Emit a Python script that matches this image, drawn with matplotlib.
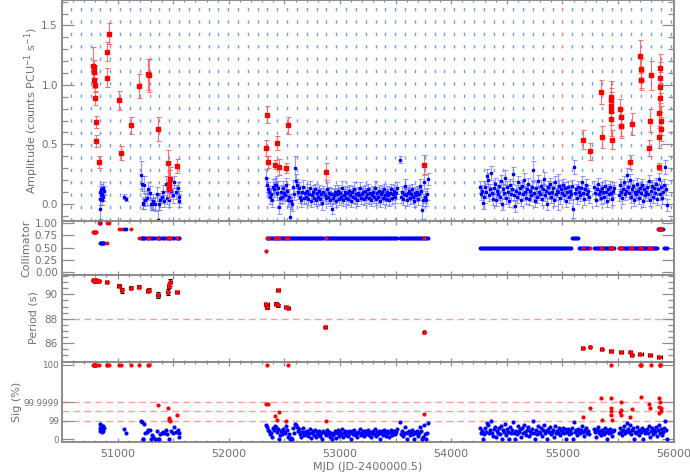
import matplotlib
matplotlib.use('Agg')
import matplotlib.pyplot as plt
import numpy as np
from matplotlib.ticker import MultipleLocator, FixedLocator, FuncFormatter

plt.rcParams['lines.scale_dashes'] = False
plt.rcParams['font.family'] = ['DejaVu Sans']
plt.rcParams['font.size'] = 8

# ---------------- data ----------------
# Blue (non-significant) observations: MJD, amplitude, error, significance (display units)
blue_mjd = [
    50838, 50842, 50845, 50849, 50853, 50857, 50862, 50867, 50872, 50879,
    51060, 51072, 51208, 51216, 51224, 51231, 51237, 51249, 51262, 51275,
    51288, 51298, 51309, 51321, 51336, 51352, 51364, 51375, 51383, 51396,
    51411, 51420, 51435, 51447, 51465, 51480, 51495, 51507, 51522, 51540,
    51549, 51556,
    # middle
    52336, 52344, 52353, 52361, 52370, 52378, 52388, 52396, 52405, 52413,
    52423, 52431, 52441, 52450, 52458, 52468, 52477, 52486, 52494, 52504,
    52512, 52522, 52531, 52540, 52548, 52558, 52567, 52575, 52585, 52594,
    52602, 52612, 52621, 52629, 52639, 52648, 52656, 52666, 52675, 52683,
    52693, 52702, 52710, 52720, 52729, 52737, 52747, 52756, 52764, 52774,
    52783, 52791, 52801, 52810, 52818, 52828, 52837, 52845, 52861, 52871,
    52880, 52888, 52898, 52907, 52915, 52925, 52934, 52942, 52952, 52961,
    52969, 52979, 52988, 52996, 53006, 53015, 53023, 53033, 53042, 53050,
    53060, 53069, 53077, 53087, 53096, 53104, 53114, 53123, 53131, 53141,
    53150, 53158, 53168, 53177, 53185, 53195, 53204, 53212, 53222, 53231,
    53239, 53249, 53258, 53266, 53276, 53285, 53293, 53303, 53312, 53320,
    53330, 53339, 53347, 53357, 53366, 53374, 53384, 53393, 53401, 53411,
    53420, 53428, 53438, 53447, 53455, 53465, 53474, 53482, 53492, 53501,
    53509, 53540, 53552, 53561, 53569, 53579, 53588, 53596, 53606, 53615,
    53623, 53633, 53642, 53650, 53660, 53669, 53677, 53687, 53696, 53704,
    53714, 53723, 53731, 53741, 53748, 53757, 53766, 53775, 53785, 53794,
    # right
    54259, 54268, 54276, 54286, 54295, 54303, 54313, 54322, 54330, 54340,
    54349, 54357, 54367, 54376, 54384, 54394, 54403, 54411, 54421, 54430,
    54438, 54448, 54457, 54465, 54475, 54484, 54492, 54502, 54511, 54519,
    54529, 54538, 54546, 54556, 54565, 54573, 54583, 54592, 54600, 54610,
    54619, 54627, 54637, 54646, 54654, 54664, 54673, 54681, 54691, 54700,
    54708, 54718, 54727, 54735, 54745, 54754, 54762, 54772, 54781, 54789,
    54799, 54808, 54816, 54826, 54835, 54843, 54853, 54862, 54870, 54880,
    54889, 54897, 54907, 54916, 54924, 54934, 54943, 54951, 54961, 54970,
    54978, 54988, 54997, 55005, 55015, 55024, 55032, 55042, 55051, 55059,
    55069, 55078, 55086, 55096, 55105, 55113, 55123, 55132, 55140, 55150,
    55159, 55167, 55177, 55186, 55194, 55204, 55213, 55221, 55231, 55240,
    55286, 55294, 55304, 55313, 55321, 55331, 55340, 55348, 55358, 55367,
    55375, 55385, 55394, 55402, 55412, 55421, 55429, 55439, 55448, 55456,
    55466, 55505, 55514, 55524, 55533, 55541, 55551, 55560, 55568, 55578,
    55587, 55595, 55605, 55614, 55622, 55632, 55641, 55649, 55659, 55668,
    55676, 55686, 55695, 55703, 55713, 55722, 55730, 55740, 55749, 55757,
    55767, 55776, 55784, 55794, 55803, 55811, 55821, 55830, 55838, 55848,
    55857, 55865, 55875, 55884, 55892, 55902, 55911, 55919, 55929, 55938,
]
blue_amp = [
    0.04, -0.04, 0.10, 0.07, 0.12, 0.03, 0.08, 0.13, 0.06, 0.11,
    0.06, 0.04, 0.24, 0.17, 0.00, 0.01, 0.16, 0.03, 0.05, 0.12,
    0.09, 0.00, 0.00, 0.02, 0.00, 0.08, -0.14, 0.00, 0.03, 0.06,
    0.10, 0.02, 0.17, 0.05, 0.03, 0.11, 0.07, 0.18, 0.10, 0.13,
    0.06, 0.02,
    # middle
    0.22, 0.16, 0.12, 0.10, 0.06, 0.08, 0.03, 0.14, 0.12, 0.16,
    0.16, 0.09, 0.13, -0.03, 0.05, 0.10, 0.06, 0.13, 0.09, 0.07,
    0.16, 0.11, 0.03, 0.06, -0.11, 0.02, 0.00, 0.14, 0.08, 0.30,
    0.19, 0.16, 0.10, 0.13, 0.06, 0.03, 0.10, 0.14, 0.05, 0.09,
    0.06, 0.11, 0.04, 0.08, 0.13, 0.02, 0.07, 0.10, 0.05, 0.12,
    0.03, 0.09, 0.06, 0.11, 0.04, 0.08, 0.01, 0.10, 0.07, 0.05,
    0.12, 0.06, 0.09, 0.03, 0.08, -0.04, 0.05, 0.07, 0.10, 0.02,
    0.08, 0.11, 0.04, 0.09, 0.06, 0.13, 0.03, 0.07, 0.10, 0.05,
    0.09, 0.04, 0.11, 0.07, 0.02, 0.10, 0.06, 0.12, 0.05, 0.08,
    0.03, 0.09, 0.07, 0.13, 0.05, 0.08, 0.10, 0.04, 0.11, 0.06,
    0.08, 0.12, 0.05, 0.09, 0.03, 0.07, 0.10, 0.06, 0.13, 0.04,
    0.09, 0.06, 0.11, 0.02, 0.08, 0.10, 0.05, 0.12, 0.07, 0.04,
    0.10, 0.07, 0.03, 0.09, 0.12, 0.05, 0.08, 0.11, 0.06, 0.09,
    0.13, 0.37, 0.06, 0.10, 0.04, 0.08, 0.15, 0.07, 0.03, 0.09,
    0.11, 0.05, 0.08, 0.12, 0.06, 0.02, 0.09, 0.07, 0.10, 0.04,
    0.08, 0.15, 0.11, -0.05, 0.03, 0.18, 0.06, 0.03, 0.08, 0.21,
    # right
    0.14, 0.08, 0.11, 0.01, 0.06, 0.14, 0.10, 0.23, 0.20, 0.07,
    0.12, 0.26, 0.09, 0.04, 0.13, 0.17, 0.03, 0.11, 0.08, 0.15,
    0.06, 0.19, 0.00, 0.12, 0.09, 0.22, 0.05, 0.14, 0.10, 0.02,
    0.16, 0.08, 0.12, 0.25, 0.07, -0.02, 0.11, 0.06, 0.18, 0.09,
    0.13, 0.03, 0.15, 0.08, 0.20, 0.10, 0.05, 0.12, 0.17, 0.04,
    0.11, 0.07, 0.14, 0.28, 0.09, 0.02, 0.13, 0.06, 0.19, 0.10,
    0.08, 0.15, 0.04, 0.12, 0.21, 0.07, 0.11, 0.00, 0.14, 0.09,
    0.17, 0.06, 0.10, 0.13, 0.03, 0.18, 0.08, 0.11, 0.10, 0.15,
    0.05, 0.12, 0.09, 0.16, 0.07, 0.13, 0.02, 0.10, 0.14, 0.06,
    0.11, 0.08, 0.15, -0.04, 0.31, 0.09, 0.12, 0.05, 0.14, 0.10,
    0.07, 0.13, 0.18, 0.09, 0.04, 0.12, 0.16, 0.08, 0.11, 0.06,
    0.14, 0.09, 0.03, 0.12, 0.17, 0.08, 0.11, 0.05, 0.13, 0.10,
    0.06, 0.15, 0.10, 0.02, 0.12, 0.08, 0.14, 0.09, 0.04, 0.11,
    0.13, 0.07, 0.16, 0.10, 0.05, 0.12, 0.18, 0.08, 0.11, 0.24,
    0.14, 0.09, 0.20, 0.06, 0.12, 0.15, 0.03, 0.10, 0.08, 0.17,
    0.11, 0.05, 0.13, 0.09, 0.16, 0.02, 0.12, 0.07, 0.10, 0.14,
    0.08, 0.19, 0.03, 0.11, 0.15, 0.06, 0.13, 0.09, 0.17, 0.04,
    0.12, 0.21, 0.08, 0.14, 0.05, 0.10, 0.16, 0.31, 0.12, -0.01,
]
blue_err = [
    0.05, 0.09, 0.05, 0.04, 0.05, 0.04, 0.05, 0.05, 0.04, 0.04,
    0.02, 0.02, 0.12, 0.06, 0.04, 0.05, 0.07, 0.05, 0.06, 0.06,
    0.06, 0.05, 0.05, 0.06, 0.06, 0.06, 0.09, 0.05, 0.06, 0.05,
    0.06, 0.05, 0.06, 0.05, 0.06, 0.05, 0.06, 0.05, 0.06, 0.05,
    0.05, 0.05,
    # middle
    0.07, 0.06, 0.06, 0.05, 0.06, 0.05, 0.06, 0.07, 0.06, 0.06,
    0.07, 0.06, 0.06, 0.06, 0.05, 0.06, 0.05, 0.06, 0.06, 0.05,
    0.06, 0.06, 0.05, 0.06, 0.08, 0.06, 0.06, 0.06, 0.05, 0.10,
    0.06, 0.05, 0.06, 0.05, 0.05, 0.06, 0.05, 0.06, 0.05, 0.05,
    0.05, 0.06, 0.05, 0.05, 0.06, 0.05, 0.05, 0.06, 0.05, 0.05,
    0.05, 0.05, 0.06, 0.05, 0.05, 0.05, 0.06, 0.05, 0.05, 0.05,
    0.06, 0.05, 0.05, 0.05, 0.05, 0.05, 0.05, 0.05, 0.06, 0.05,
    0.05, 0.05, 0.05, 0.05, 0.05, 0.06, 0.05, 0.05, 0.05, 0.05,
    0.05, 0.05, 0.05, 0.05, 0.05, 0.05, 0.05, 0.06, 0.05, 0.05,
    0.05, 0.05, 0.05, 0.05, 0.05, 0.05, 0.05, 0.05, 0.05, 0.05,
    0.05, 0.05, 0.05, 0.05, 0.05, 0.05, 0.05, 0.05, 0.06, 0.05,
    0.05, 0.05, 0.05, 0.05, 0.05, 0.05, 0.05, 0.05, 0.05, 0.05,
    0.05, 0.05, 0.05, 0.05, 0.05, 0.05, 0.05, 0.05, 0.05, 0.05,
    0.05, 0.03, 0.05, 0.05, 0.05, 0.05, 0.06, 0.05, 0.05, 0.05,
    0.05, 0.05, 0.05, 0.05, 0.05, 0.05, 0.05, 0.05, 0.05, 0.05,
    0.05, 0.06, 0.05, 0.08, 0.05, 0.06, 0.05, 0.05, 0.05, 0.05,
    # right
    0.05, 0.05, 0.05, 0.05, 0.05, 0.05, 0.05, 0.06, 0.06, 0.05,
    0.05, 0.06, 0.05, 0.05, 0.05, 0.05, 0.05, 0.05, 0.05, 0.05,
    0.05, 0.05, 0.05, 0.05, 0.05, 0.06, 0.05, 0.05, 0.05, 0.05,
    0.05, 0.05, 0.05, 0.06, 0.05, 0.05, 0.05, 0.05, 0.05, 0.05,
    0.05, 0.05, 0.05, 0.05, 0.06, 0.05, 0.05, 0.05, 0.05, 0.05,
    0.05, 0.05, 0.05, 0.08, 0.05, 0.05, 0.05, 0.05, 0.05, 0.05,
    0.05, 0.05, 0.05, 0.05, 0.06, 0.05, 0.05, 0.05, 0.05, 0.05,
    0.05, 0.05, 0.05, 0.05, 0.05, 0.05, 0.05, 0.05, 0.15, 0.05,
    0.05, 0.05, 0.05, 0.05, 0.05, 0.05, 0.05, 0.05, 0.05, 0.05,
    0.05, 0.05, 0.05, 0.08, 0.06, 0.05, 0.05, 0.05, 0.05, 0.05,
    0.05, 0.05, 0.05, 0.05, 0.05, 0.05, 0.05, 0.05, 0.05, 0.05,
    0.05, 0.05, 0.05, 0.05, 0.05, 0.05, 0.05, 0.05, 0.05, 0.05,
    0.05, 0.05, 0.05, 0.05, 0.05, 0.05, 0.05, 0.05, 0.05, 0.05,
    0.05, 0.05, 0.05, 0.05, 0.05, 0.05, 0.05, 0.05, 0.05, 0.06,
    0.05, 0.05, 0.05, 0.05, 0.05, 0.05, 0.05, 0.05, 0.05, 0.05,
    0.05, 0.05, 0.05, 0.05, 0.05, 0.05, 0.05, 0.05, 0.05, 0.05,
    0.05, 0.05, 0.05, 0.05, 0.05, 0.05, 0.05, 0.05, 0.05, 0.05,
    0.05, 0.05, 0.05, 0.05, 0.05, 0.05, 0.05, 0.06, 0.05, 0.05,
]
blue_sig = [
    1.6, 0.9, 1.2, 1.0, 1.5, 0.8, 1.1, 1.4, 0.9, 1.2,
    1.1, 0.7, 1.9, 1.8, 0.0, 0.0, 1.6, 0.7, 0.8, 1.0,
    0.95, 0.0, 0.4, 0.2, 0.0, 0.9, 0.0, 0.0, 0.5, 0.7,
    0.8, 0.6, 1.0, 0.5, 0.0, 0.9, 0.7, 1.3, 0.8, 1.0,
    0.6, 0.2,
    # middle
    1.5, 1.3, 1.0, 0.9, 0.5, 0.7, 0.2, 1.2, 1.0, 1.4,
    1.3, 0.8, 1.1, 0.0, 0.4, 0.9, 0.5, 1.1, 0.8, 0.6,
    1.4, 1.0, 0.2, 0.5, 0.0, 0.1, 0.0, 1.2, 0.7, 1.6,
    1.5, 1.3, 0.9, 1.1, 0.5, 0.2, 0.8, 1.2, 0.4, 0.8,
    0.5, 0.9, 0.3, 0.7, 1.1, 0.1, 0.6, 0.9, 0.4, 1.0,
    0.2, 0.8, 0.5, 0.9, 0.3, 0.7, 0.0, 0.9, 0.6, 0.4,
    1.0, 0.5, 0.8, 0.2, 0.7, 0.0, 0.4, 0.6, 0.9, 0.1,
    0.7, 1.0, 0.3, 0.8, 0.5, 1.1, 0.2, 0.6, 0.9, 0.4,
    0.8, 0.3, 0.9, 0.6, 0.0, 0.9, 0.5, 1.0, 0.4, 0.7,
    0.2, 0.8, 0.6, 1.1, 0.4, 0.7, 0.9, 0.3, 0.9, 0.5,
    0.7, 1.0, 0.4, 0.8, 0.2, 0.6, 0.9, 0.5, 1.1, 0.3,
    0.8, 0.5, 0.9, 0.0, 0.7, 0.9, 0.4, 1.0, 0.6, 0.3,
    0.9, 0.6, 0.2, 0.8, 1.0, 0.4, 0.7, 0.9, 0.5, 0.8,
    1.1, 1.8, 0.5, 0.9, 0.3, 0.7, 1.3, 0.6, 0.0, 0.8,
    0.9, 0.4, 0.7, 1.0, 0.5, 0.0, 0.8, 0.6, 0.9, 0.3,
    0.7, 1.3, 0.9, 0.0, 0.2, 1.5, 0.5, 0.0, 0.7, 1.7,
    # right
    1.2, 0.7, 0.9, 0.0, 0.5, 1.2, 0.8, 1.7, 1.5, 0.6,
    1.0, 1.9, 0.7, 0.3, 1.1, 1.3, 0.2, 0.9, 0.7, 1.2,
    0.5, 1.4, 0.0, 1.0, 0.8, 1.6, 0.4, 1.1, 0.8, 0.0,
    1.3, 0.7, 1.0, 1.8, 0.6, 0.0, 0.9, 0.5, 1.4, 0.8,
    1.1, 0.2, 1.2, 0.7, 1.5, 0.8, 0.4, 1.0, 1.3, 0.3,
    0.9, 0.6, 1.1, 1.9, 0.7, 0.0, 1.0, 0.5, 1.4, 0.8,
    0.7, 1.2, 0.3, 1.0, 1.5, 0.6, 0.9, 0.0, 1.1, 0.8,
    1.3, 0.5, 0.8, 1.0, 0.2, 1.4, 0.7, 0.9, 0.6, 1.2,
    0.4, 1.0, 0.8, 1.2, 0.6, 1.1, 0.0, 0.8, 1.1, 0.5,
    0.9, 0.7, 1.2, 0.0, 1.8, 0.8, 1.0, 0.4, 1.1, 0.8,
    0.6, 1.0, 1.4, 0.8, 0.3, 1.0, 1.2, 0.7, 0.9, 0.5,
    1.1, 0.8, 0.2, 1.0, 1.3, 0.7, 0.9, 0.4, 1.0, 0.8,
    0.5, 1.2, 0.8, 0.0, 1.0, 0.7, 1.1, 0.8, 0.3, 0.9,
    1.0, 0.6, 1.2, 0.8, 0.4, 1.0, 1.4, 0.7, 0.9, 1.7,
    1.1, 0.8, 1.5, 0.5, 1.0, 1.2, 0.0, 0.8, 0.7, 1.3,
    0.9, 0.4, 1.0, 0.8, 1.2, 0.0, 1.0, 0.6, 0.8, 1.1,
    0.7, 1.4, 0.2, 0.9, 1.2, 0.5, 1.0, 0.8, 1.3, 0.3,
    1.0, 1.5, 0.7, 1.1, 0.4, 0.8, 1.2, 1.9, 1.0, 0.0,
]

# Red (significant) detections
red_mjd = [50781, 50784, 50788, 50790, 50795, 50797, 50803, 50808, 50830,
           50902, 50907, 50920, 51012, 51033, 51118, 51190, 51271, 51280,
           51363, 51451, 51460, 51465, 51474, 51534,
           52336, 52344, 52356, 52418, 52436, 52449, 52515, 52535, 52871, 53753,
           55182, 55248, 55347, 55353, 55434, 55437, 55439, 55440, 55441, 55443,
           55521, 55524, 55526, 55530, 55605, 55626, 55701, 55703, 55705, 55708,
           55779, 55788, 55794, 55866, 55869, 55872, 55875, 55877, 55879, 55881,
           55884, 55888]
red_amp = [1.16, 1.15, 1.11, 1.04, 1.00, 0.89, 0.69, 0.53, 0.35,
           1.06, 1.28, 1.43, 0.87, 0.43, 0.66, 0.99, 1.09, 1.08,
           0.63, 0.34, 0.17, 0.12, 0.21, 0.32,
           0.47, 0.75, 0.35, 0.33, 0.51, 0.31, 0.30, 0.66, 0.27, 0.33,
           0.54, 0.44, 0.94, 0.56, 0.82, 0.87, 0.90, 0.71, 0.78, 0.54,
           0.80, 0.73, 0.65, 0.65, 0.35, 0.67, 1.24, 1.04, 1.13, 1.04,
           0.47, 0.70, 1.08, 0.31, 0.56, 0.76, 1.06, 1.14, 0.98, 0.89,
           0.63, 0.70]
red_err = [0.16, 0.06, 0.06, 0.07, 0.06, 0.06, 0.05, 0.05, 0.05,
           0.08, 0.08, 0.09, 0.08, 0.06, 0.07, 0.10, 0.13, 0.14,
           0.10, 0.11, 0.11, 0.08, 0.10, 0.06,
           0.07, 0.07, 0.05, 0.04, 0.06, 0.07, 0.04, 0.07, 0.07, 0.08,
           0.08, 0.07, 0.10, 0.09, 0.12, 0.10, 0.13, 0.14, 0.12, 0.08,
           0.08, 0.07, 0.10, 0.08, 0.06, 0.09, 0.14, 0.07, 0.09, 0.08,
           0.07, 0.10, 0.12, 0.03, 0.09, 0.12, 0.13, 0.12, 0.13, 0.12,
           0.10, 0.12]
red_sig = [8.0, 8.0, 8.0, 8.0, 8.0, 8.0, 8.0, 8.0, 8.0,
           8.0, 8.0, 8.0, 8.0, 8.0, 8.0, 8.0, 8.0, 8.0,
           3.7, 3.3, 2.3, 2.1, 1.9, 2.6,
           3.8, 8.0, 3.8, 2.5, 2.1, 2.9, 1.9, 8.0, 2.0, 2.7,
           2.35, 3.4, 4.45, 2.1, 4.45, 8.0, 3.4, 2.6, 3.0, 2.1,
           2.9, 2.6, 3.15, 4.0, 2.4, 3.2, 8.0, 8.0, 8.0, 4.5,
           3.8, 3.35, 8.0, 2.8, 3.5, 4.45, 8.0, 8.0, 8.0, 4.0,
           3.0, 3.3]

# Collimator response by epoch: start MJD, end MJD, value
col_start = [50700, 50815, 50843, 50904, 50950, 51150, 52300, 52340, 54200, 55080, 55145, 55855, 55910]
col_end   = [50815, 50843, 50904, 50950, 51150, 51600, 52340, 53850, 55080, 55145, 55855, 55910, 56000]
col_value = [0.82, 1.00, 0.60, 1.00, 0.89, 0.70, 0.42, 0.70, 0.50, 0.70, 0.50, 0.89, 0.50]

# Pulse period measurements
per_mjd = [50781, 50790, 50797, 50803, 50808, 50830, 50902, 51012, 51037, 51118,
           51190, 51271, 51280, 51363, 51451, 51460, 51474, 51534, 52338, 52344,
           52425, 52440, 52443, 52515, 52536, 52868, 53755, 55182, 55248, 55353,
           55437, 55527, 55611, 55623, 55701, 55788, 55872]
per_val = [91.15, 91.12, 91.10, 91.13, 91.08, 91.10, 90.99, 90.72, 90.33, 90.55,
           90.63, 90.30, 90.35, 89.95, 90.20, 90.70, 91.00, 90.17, 89.20, 88.96,
           89.22, 89.10, 90.35, 88.97, 88.90, 87.34, 86.90, 85.64, 85.72, 85.50,
           85.40, 85.30, 85.27, 85.05, 85.10, 85.05, 84.90]
per_err = [0.06, 0.05, 0.05, 0.05, 0.05, 0.06, 0.08, 0.12, 0.22, 0.10,
           0.15, 0.15, 0.18, 0.25, 0.25, 0.22, 0.28, 0.08, 0.12, 0.15,
           0.12, 0.10, 0.10, 0.08, 0.08, 0.10, 0.05, 0.06, 0.05, 0.05,
           0.06, 0.06, 0.05, 0.05, 0.05, 0.05, 0.06]
per_xerr = [15, 15, 15, 15, 15, 15, 12, 15, 15, 15,
            15, 15, 15, 20, 15, 15, 15, 15, 20, 15,
            15, 15, 15, 15, 15, 15, 12, 12, 12, 15,
            15, 20, 15, 15, 20, 20, 25]

# Orbital ephemeris (vertical markers)
orb_T0 = 55000.0
orb_P = 88.4

# Significance axis labels
sig_tick_pos = [0, 2, 4, 8.0]
sig_tick_lab = ['0', '99', '99.9999', '100']
sig_levels = [2, 3, 4]

# ---------------- layout ----------------
W, H = 690, 473
fig = plt.figure(figsize=(W / 100, H / 100), dpi=100)
L, R = 62 / W, 673.6 / W

def ax_at(top_px, bot_px):
    return fig.add_axes([L, 1 - bot_px / H, R - L, (bot_px - top_px) / H])

ax1 = ax_at(0.5, 221)
ax2 = ax_at(221, 275)
ax3 = ax_at(275, 362)
ax4 = ax_at(362, 442)

GREY = '#8c8c8c'
TXT = '#707070'

def fmt_x(v, pos):
    return '%d' % v if abs(v % 1000) < 1e-6 else ''

for ax in (ax1, ax2, ax3, ax4):
    ax.set_xlim(50500, 56000)
    for s in ax.spines.values():
        s.set_color(GREY)
        s.set_linewidth(1.4)
    ax.xaxis.set_major_locator(MultipleLocator(500))
    ax.xaxis.set_minor_locator(MultipleLocator(100))
    ax.tick_params(which='both', direction='in', top=True, right=True,
                   color=GREY, labelcolor=TXT, width=0.9)
    ax.tick_params(axis='x', which='major', length=3.2, labelsize=8)
    ax.tick_params(axis='x', which='minor', length=1.6)
    ax.tick_params(axis='y', which='major', length=8.4, pad=3, labelsize=7.5)
    ax.tick_params(axis='y', which='minor', length=4.3)
    if ax is ax4:
        ax.xaxis.set_major_formatter(FuncFormatter(fmt_x))
        ax.tick_params(axis='x', pad=5)
    else:
        ax.tick_params(axis='x', labelbottom=False)

BLUE = '#0000ff'
BLUE_E = (0.35, 0.35, 1.0, 0.6)
RED = '#ff0000'
RED_E = (1.0, 0.35, 0.35, 0.85)

# ---- panel 1: amplitude ----
ax1.set_ylim(-0.145, 1.71)
ax1.yaxis.set_major_locator(MultipleLocator(0.5))
ax1.yaxis.set_minor_locator(MultipleLocator(0.1))
ax1.yaxis.set_major_formatter(FuncFormatter(lambda v, p: '%.1f' % v))
k = np.arange(-60, 15)
orb_lines = orb_T0 + k * orb_P
for xv in orb_lines:
    if 50500 < xv <= 56000:
        c = '#ff7070' if abs(xv - orb_T0) < 1 else '#6f9bf5'
        ax1.axvline(xv, color=c, lw=1.0, dashes=(2.4, 6.5), zorder=1)

n = min(len(blue_mjd), len(blue_amp), len(blue_err), len(blue_sig))
bm = np.array(blue_mjd[:n], float)
ba = np.array(blue_amp[:n], float)
be = np.array(blue_err[:n], float)
bs = np.array(blue_sig[:n], float)
rm = np.array(red_mjd, float)
ra = np.array(red_amp, float)
re_ = np.array(red_err, float)
rs = np.array(red_sig, float)

ax1.errorbar(bm, ba, yerr=be, fmt='s', ms=2.0, color=BLUE, mec=BLUE,
             ecolor=BLUE_E, elinewidth=0.8, capsize=1.8, capthick=0.8, zorder=3)
ax1.errorbar(rm, ra, yerr=re_, fmt='s', ms=2.2, color=RED, mec=RED,
             ecolor=RED_E, elinewidth=0.8, capsize=1.8, capthick=0.8, zorder=4)

# ---- panel 2: collimator ----
def col_lookup(m):
    out = np.full(len(m), np.nan)
    for s, e, v in zip(col_start, col_end, col_value):
        out[(m >= s) & (m < e)] = v
    return out

ax2.set_ylim(-0.068, 1.048)
ax2.yaxis.set_major_locator(FixedLocator([0, 0.25, 0.5, 0.75, 1.0]))
ax2.yaxis.set_minor_locator(FixedLocator([]))
ax2.yaxis.set_major_formatter(FuncFormatter(lambda v, p: '%.2f' % v))
ax2.plot(bm, col_lookup(bm), 'o', ms=2.8, color=BLUE, mec='none', zorder=3)
ax2.plot(rm, col_lookup(rm), 'o', ms=2.8, color=RED, mec='none', zorder=4)

# ---- panel 3: period ----
ax3.set_ylim(84.46, 91.58)
ax3.yaxis.set_major_locator(MultipleLocator(2))
ax3.yaxis.set_minor_locator(MultipleLocator(0.5))
ax3.axhline(88, color='#ff9d9d', lw=1.0, dashes=(4.8, 3.1), zorder=1)
ax3.errorbar(per_mjd, per_val, xerr=per_xerr, yerr=per_err, fmt='o', ms=2.4,
             color=RED, mec=RED, ecolor='black', elinewidth=0.8,
             capsize=1.6, capthick=0.8, zorder=3)

# ---- panel 4: significance ----
ax4.set_ylim(-0.32, 8.32)
ax4.yaxis.set_major_locator(FixedLocator(sig_tick_pos))
ax4.yaxis.set_minor_locator(FixedLocator([]))
ax4.set_yticklabels(sig_tick_lab)
ax4.tick_params(axis='y', labelsize=6.3, pad=2)
for lv in sig_levels:
    ax4.axhline(lv, color='#ff9d9d', lw=1.0, dashes=(4.8, 3.1), zorder=1)
ax4.plot(bm, bs, 'o', ms=3.0, color=BLUE, mec='none', zorder=3)
ax4.plot(rm, rs, 'o', ms=3.0, color=RED, mec='none', zorder=4)

# ---- labels ----
def px(x, y):
    return x / W, 1 - y / H

fig.text(*px(32, 111), 'Amplitude (counts PCU$^{-1}$ s$^{-1}$)', rotation=90,
         ha='center', va='center', color=TXT, fontsize=8)
fig.text(*px(26, 248), 'Collimator', rotation=90, ha='center', va='center',
         color=TXT, fontsize=8)
fig.text(*px(34, 318), 'Period (s)', rotation=90, ha='center', va='center',
         color=TXT, fontsize=8)
fig.text(*px(17, 402), 'Sig (%)', rotation=90, ha='center', va='center',
         color=TXT, fontsize=8)
fig.text(*px(367.8, 466.5), 'MJD (JD-2400000.5)', ha='center', va='center',
         color=TXT, fontsize=8)

fig.savefig('out.png', dpi=100)
